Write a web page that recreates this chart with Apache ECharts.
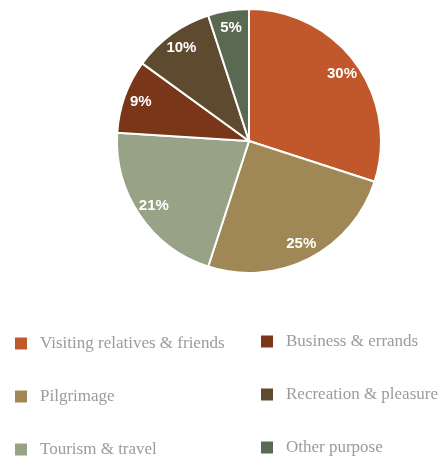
<!DOCTYPE html>
<html>
<head>
<meta charset="utf-8">
<script src="https://cdn.jsdelivr.net/npm/echarts@6/dist/echarts.min.js"></script>
<style>
  html, body { margin: 0; padding: 0; background: #fff; }
  #chart { width: 443px; height: 462px; }
</style>
</head>
<body>
<div id="chart"></div>
<script>
// Purpose of trips, share of all trips (%)
const categories = [
  'Visiting relatives & friends',
  'Pilgrimage',
  'Tourism & travel',
  'Business & errands',
  'Recreation & pleasure',
  'Other purpose'
];
const shares = [30, 25, 21, 9, 10, 5];
const colors = ['#c0582b', '#a08856', '#97a287', '#7a3619', '#5e4a2f', '#5a6a52'];

const leftColumn = [categories[0], categories[1], categories[2]];
const rightColumn = [categories[3], categories[4], categories[5]];

const CX = 249, CY = 141, R = 132;

const sliceData = categories.map((name, i) => ({
  name: name,
  value: shares[i],
  itemStyle: { color: colors[i] }
}));

const labelData = categories.map((name, i) => ({
  name: name,
  value: shares[i]
}));

const legendBase = {
  orient: 'vertical',
  icon: 'rect',
  itemWidth: 14,
  itemHeight: 14,
  itemGap: 24,
  padding: 0,
  height: 200,
  selectedMode: false,
  textStyle: {
    fontFamily: 'Liberation Serif, serif',
    fontSize: 17,
    color: '#9b9b9b',
    lineHeight: 16,
    padding: [13, 0, 0, 7]
  }
};

const chart = echarts.init(document.getElementById('chart'), null, { renderer: 'canvas' });
chart.setOption({
  animation: false,
  legend: [
    Object.assign({}, legendBase, { data: leftColumn, left: 13, top: 329 }),
    Object.assign({}, legendBase, { data: rightColumn, left: 259, top: 327 })
  ],
  series: [
    {
      type: 'pie',
      center: [CX, CY],
      radius: [0, R],
      startAngle: 90,
      clockwise: true,
      data: sliceData,
      label: { show: false },
      labelLine: { show: false },
      itemStyle: { borderColor: '#ffffff', borderWidth: 2 },
      emphasis: { disabled: true }
    },
    {
      // transparent ring that only carries the percentage labels
      type: 'pie',
      center: [CX, CY],
      radius: [92, R],
      startAngle: 90,
      clockwise: true,
      silent: true,
      data: labelData,
      itemStyle: { color: 'rgba(0,0,0,0)' },
      label: {
        show: true,
        position: 'inside',
        formatter: '{c}%',
        color: '#ffffff',
        fontFamily: 'Liberation Sans, Arial, sans-serif',
        fontWeight: 'bold',
        fontSize: 15
      },
      labelLine: { show: false },
      emphasis: { disabled: true }
    }
  ]
});
</script>
</body>
</html>
